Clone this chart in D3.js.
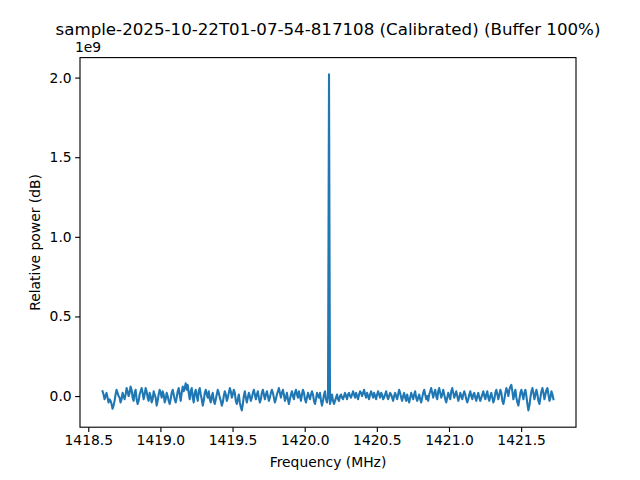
<!DOCTYPE html>
<html><head><meta charset="utf-8">
<script src="https://cdn.jsdelivr.net/npm/d3@7"></script>
<style>body{margin:0;background:#fff}svg{font-family:"DejaVu Sans",sans-serif}</style>
</head><body><svg id="c" width="640" height="480"></svg>
<script>
// Power values in units of 1e9
const freqStart = 1418.599, freqEnd = 1421.724;
const power = [
0.03,0.01,-0.02,0.00,0.02,-0.01,-0.04,-0.02,-0.03,-0.05,
-0.08,-0.06,-0.03,0.01,0.04,0.02,0.00,-0.01,-0.04,-0.02,
0.02,0.00,-0.02,0.01,0.05,0.03,0.00,0.02,0.06,0.04,
-0.01,-0.03,0.02,0.04,-0.02,-0.05,-0.03,0.01,0.03,0.05,
0.02,-0.02,0.01,0.05,0.03,-0.01,-0.03,0.02,0.00,-0.04,
-0.02,0.03,0.01,-0.01,-0.06,-0.03,0.01,0.04,0.02,-0.01,
0.03,0.01,-0.04,-0.02,0.02,0.00,-0.03,-0.05,-0.02,0.02,
0.04,0.01,-0.02,-0.04,
-0.01,0.03,0.05,0.01,-0.03,0.02,0.06,0.03,0.05,0.08,
0.04,0.07,0.02,-0.02,0.03,0.05,-0.01,-0.04,0.02,0.04,
0.00,-0.03,0.03,0.05,0.01,-0.02,-0.06,-0.03,0.02,0.04,
0.01,-0.01,0.03,-0.02,-0.04,0.00,0.02,-0.03,-0.05,-0.02,
0.01,0.04,0.02,-0.01,-0.03,-0.06,-0.04,0.00,0.03,0.01,
-0.03,-0.01,0.02,0.05,0.03,-0.01,0.01,0.04,0.02,-0.03,
-0.05,-0.02,0.01,-0.04,-0.07,-0.09,-0.05,0.00,0.03,-0.01,
-0.04,-0.01,0.02,0.00,-0.03,
-0.01,0.02,0.04,0.01,-0.02,0.01,0.03,-0.01,-0.04,-0.02,
0.02,0.04,0.01,-0.02,0.01,0.03,0.00,-0.03,-0.01,0.02,
0.04,0.02,-0.01,-0.04,-0.02,0.01,0.03,0.05,0.02,-0.01,
0.02,0.04,0.01,-0.03,-0.01,0.02,-0.02,-0.05,-0.02,0.01,
0.03,0.00,-0.02,0.02,0.04,0.01,-0.01,0.03,0.00,-0.03,
0.01,0.04,0.02,-0.02,-0.04,-0.01,0.02,0.00,-0.02,0.01,
0.03,0.01,-0.03,-0.05,-0.02,0.02,0.00,-0.01,0.02,-0.03,
-0.06,-0.03,0.01,0.03,-0.02,-0.04,-0.01,
2.02,
-0.05,-0.02,0.01,-0.03,-0.05,-0.03,-0.01,0.01,-0.02,-0.03,
0.00,0.01,-0.01,-0.02,0.00,0.02,0.00,-0.02,0.01,0.02,
0.00,-0.01,0.01,0.03,0.01,-0.01,0.02,0.00,-0.02,0.01,
0.03,0.02,0.00,0.02,0.04,0.01,-0.01,0.02,0.00,-0.02,
0.01,0.03,0.01,-0.01,0.02,0.00,-0.02,0.01,0.03,0.01,
-0.01,0.02,0.01,-0.02,-0.01,0.01,0.03,0.00,-0.02,0.00,
0.02,0.01,-0.01,-0.03,0.00,0.02,0.00,-0.02,0.01,0.04,
0.02,-0.01,
-0.03,0.00,0.02,-0.01,-0.03,0.01,-0.02,-0.04,-0.01,0.02,
0.00,-0.02,0.01,0.03,-0.01,-0.03,-0.01,0.01,-0.02,-0.04,
-0.01,0.02,0.04,0.01,-0.02,0.00,-0.03,0.01,0.03,0.05,
0.02,-0.01,0.02,0.04,0.00,-0.02,0.03,0.05,0.02,-0.01,
0.01,0.04,0.01,-0.02,-0.04,-0.01,0.02,0.00,-0.02,0.03,
0.05,0.02,-0.01,0.01,0.03,0.00,-0.03,-0.01,0.02,0.00,
-0.02,0.01,0.03,0.01,-0.02,-0.04,-0.02,0.01,0.03,0.00,
-0.02,0.01,0.02,-0.01,-0.03,0.00,0.02,-0.01,-0.03,-0.01,
0.01,0.03,0.00,-0.02,0.01,0.03,-0.01,-0.03,0.00,0.02,
-0.01,-0.04,-0.02,0.02,0.04,0.01,-0.02,0.01,0.04,0.02,
-0.03,-0.05,-0.02,0.02,0.05,0.03,0.00,0.04,0.06,0.07,
0.03,-0.02,0.01,0.04,-0.01,-0.04,-0.06,-0.02,0.02,0.04,
0.01,-0.02,0.02,0.04,0.00,-0.05,-0.09,-0.06,-0.01,0.03,
0.05,0.02,-0.02,0.01,0.04,0.01,-0.03,-0.05,-0.01,0.03,
0.05,0.02,-0.02,0.01,0.04,0.05,0.01,-0.03,-0.01,0.03,
0.01,-0.02
];
const xTicks = [1418.5,1419.0,1419.5,1420.0,1420.5,1421.0,1421.5];
const yTicks = [0.0,0.5,1.0,1.5,2.0];
const title = "sample-2025-10-22T01-07-54-817108 (Calibrated) (Buffer 100%)";
const xLabel = "Frequency (MHz)", yLabel = "Relative power (dB)", offsetLabel = "1e9";

const step = (freqEnd - freqStart) / (power.length - 1);
const data = power.map((p, i) => ({f: freqStart + i * step, p}));

const L = 80, R = 576, T = 57.6, B = 427.2;
const svg = d3.select("#c");
const fx = d3.extent(data, d => d.f), py = d3.extent(data, d => d.p);
const px = (fx[1]-fx[0])*0.05, pyy = (py[1]-py[0])*0.05;
const x = d3.scaleLinear().domain([fx[0]-px, fx[1]+px]).range([L, R]);
const y = d3.scaleLinear().domain([py[0]-pyy, py[1]+pyy]).range([B, T]);

svg.append("path").datum(data)
  .attr("fill","none").attr("stroke","#1f77b4").attr("stroke-width",2.08)
  .attr("stroke-linejoin","round").attr("stroke-linecap","square")
  .attr("d", d3.line().x(d=>x(d.f)).y(d=>y(d.p)));

const xa = svg.append("g").attr("transform",`translate(0,${B})`)
  .call(d3.axisBottom(x).tickValues(xTicks).tickFormat(d3.format(".1f")).tickSize(4.86).tickPadding(3.5));
const ya = svg.append("g").attr("transform",`translate(${L},0)`)
  .call(d3.axisLeft(y).tickValues(yTicks).tickFormat(d3.format(".1f")).tickSize(4.86).tickPadding(3.5));
[xa, ya].forEach(a => {
  a.select(".domain").remove();
  a.selectAll("line").attr("stroke","#000").attr("stroke-width",1.11);
  a.selectAll("text").attr("font-family","DejaVu Sans").attr("font-size","13.89px").attr("fill","#000");
});

svg.append("rect").attr("x",L).attr("y",T).attr("width",R-L).attr("height",B-T)
  .attr("fill","none").attr("stroke","#000").attr("stroke-width",1.11);

svg.append("text").attr("x",(L+R)/2).attr("y",35).attr("text-anchor","middle")
  .attr("font-size","16.67px").text(title);
svg.append("text").attr("x",(L+R)/2).attr("y",467).attr("text-anchor","middle")
  .attr("font-size","13.89px").text(xLabel);
svg.append("text").attr("transform",`translate(40,${(T+B)/2}) rotate(-90)`).attr("text-anchor","middle")
  .attr("font-size","13.89px").text(yLabel);
svg.append("text").attr("x",L-5).attr("y",52).attr("font-size","13.89px").text(offsetLabel);
</script></body></html>
